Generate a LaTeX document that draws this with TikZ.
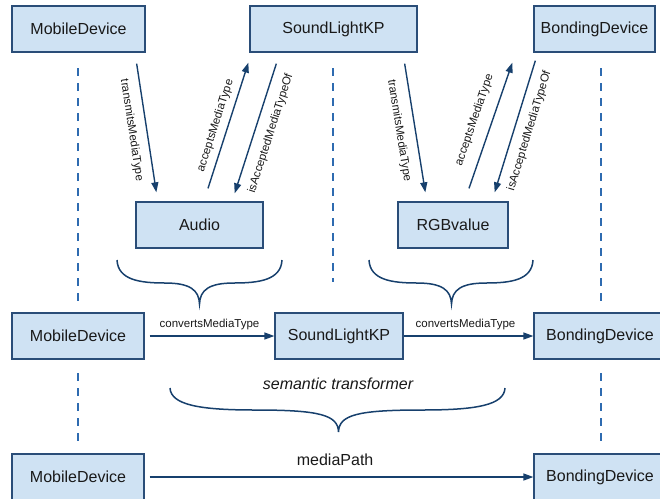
\documentclass[tikz,border=0pt]{standalone}
\usepackage{fontspec}
\setmainfont{Liberation Sans}
\usetikzlibrary{arrows.meta}
\definecolor{boxfill}{HTML}{CFE2F3}
\definecolor{boxline}{HTML}{2A4D78}
\definecolor{linkcol}{HTML}{17406D}
\definecolor{lanecol}{HTML}{2E6BB0}
\newcommand{\boxfont}{\fontsize{16}{19}\selectfont}
\newcommand{\linkfont}{\fontsize{11.5}{13}\selectfont}

\begin{document}
\begin{tikzpicture}[x=1pt, y=-1pt,
    kp/.style={draw=boxline, line width=1.3pt, fill=boxfill, minimum height=46pt, inner sep=0pt, font=\boxfont, text=black!90},
    link/.style={draw=linkcol, line width=1.4pt, -{Triangle[length=10pt,width=7pt]}},
    linklabel/.style={font=\linkfont, text=black!90, inner sep=0pt},
    lane/.style={draw=lanecol, line width=1.8pt, dash pattern=on 8pt off 7pt},
    curly/.style={draw=linkcol, line width=1.5pt}]

  \useasboundingbox (0,0) rectangle (660,498);

  \draw[lane] (78,68) -- (78,303);
  \draw[lane] (78,373) -- (78,447);
  \draw[lane] (333,68) -- (333,282);
  \draw[lane] (601,68) -- (601,303);
  \draw[lane] (601,373) -- (601,447);

  \node[kp, minimum width=133pt] (mobT) at (78.5,29) {MobileDevice};
  \node[kp, minimum width=167pt] (slT) at (333.5,29) {SoundLightKP};
  \node[kp, minimum width=121pt] (bonT) at (594.5,29) {BondingDevice};
  \node[kp, minimum width=127pt] (audio) at (199.5,225) {Audio};
  \node[kp, minimum width=110pt] (rgb) at (453,225) {RGBvalue};
  \node[kp, minimum width=132pt] (mobM) at (78,336) {MobileDevice};
  \node[kp, minimum width=128pt] (slM) at (339,336) {SoundLightKP};
  \node[kp, minimum width=132pt] (bonM) at (600,336) {BondingDevice};
  \node[kp, minimum width=132pt] (mobB) at (78,477) {MobileDevice};
  \node[kp, minimum width=132pt] (bonB) at (600,477) {BondingDevice};

  \draw[link] ([xshift=-9pt,yshift=-11pt]mobT.south east) -- ([xshift=21pt,yshift=9pt]audio.north west)
    node[linklabel, sloped, below=9pt, midway] {transmitsMediaType};
  \draw[link] ([xshift=8.5pt,yshift=13pt]audio.north) -- ([xshift=-1pt,yshift=-10pt]slT.south west)
    node[linklabel, sloped, above=6pt, pos=0.47] {acceptsMediaType};
  \draw[link] ([xshift=27pt,yshift=-11pt]slT.south west) -- ([xshift=-29pt,yshift=8pt]audio.north east)
    node[linklabel, sloped, below=10pt, midway] {isAcceptedMediaTypeOf};

  \draw[link] ([xshift=-13pt,yshift=-11pt]slT.south east) -- ([xshift=28pt,yshift=9pt]rgb.north west)
    node[linklabel, sloped, below=10pt, midway] {transmitsMediaType};
  \draw[link] ([xshift=16pt,yshift=13pt]rgb.north) -- ([xshift=-21pt,yshift=-10pt]bonT.south west)
    node[linklabel, sloped, above=11pt, pos=0.5] {acceptsMediaType};
  \draw[link] ([xshift=2pt,yshift=-8pt]bonT.south west) -- ([xshift=-14pt,yshift=9pt]rgb.north east)
    node[linklabel, sloped, below=9pt, midway] {isAcceptedMediaTypeOf};

  \draw[curly] (117,260) .. controls (118,280) and (140,283) .. (165,283)
    .. controls (190,283) and (199,290) .. (199.5,304)
    .. controls (200,290) and (209,283) .. (234,283)
    .. controls (259,283) and (281,280) .. (282,260);
  \draw[curly] (369,260) .. controls (370,280) and (392,283) .. (417,283)
    .. controls (442,283) and (451,290) .. (451.5,304)
    .. controls (452,290) and (461,283) .. (486,283)
    .. controls (511,283) and (532,280) .. (533,260);

  \draw[link, shorten <=5pt] (mobM) -- (slM) node[linklabel, above=5pt, midway] {convertsMediaType};
  \draw[link] (slM) -- (bonM) node[linklabel, above=5pt, midway, xshift=-3pt] {convertsMediaType};

  \node[font=\boxfont\itshape, text=black!90] (semtrans) at (338,384) {semantic transformer};
  \draw[curly] (170,388) .. controls (171,405) and (200,410) .. (255,410)
    .. controls (320,410) and (338,415) .. (338.5,432)
    .. controls (339,415) and (357,410) .. (422,410)
    .. controls (477,410) and (504,405) .. (505,388);

  \draw[link, shorten <=5pt] (mobB) -- (bonB) node[linklabel, font=\boxfont, above=11pt, pos=0.49] {mediaPath};
\end{tikzpicture}
\end{document}
